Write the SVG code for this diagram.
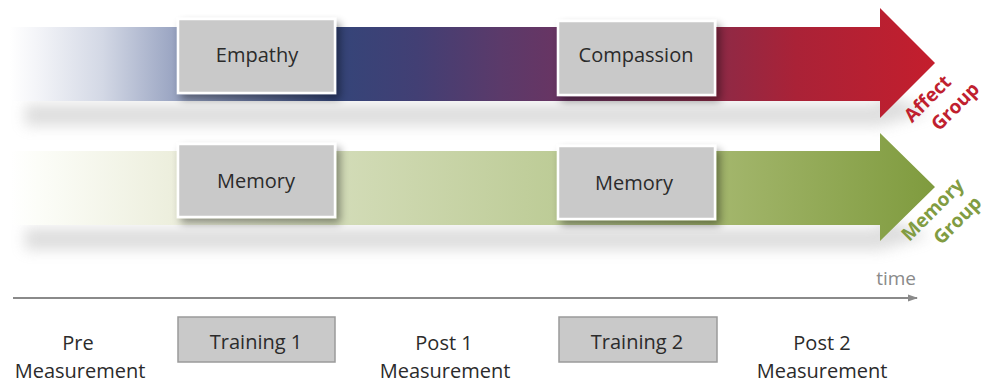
<svg xmlns="http://www.w3.org/2000/svg" width="992" height="390" viewBox="0 0 992 390">
<defs>
<linearGradient id="gAffect" gradientUnits="userSpaceOnUse" x1="10" y1="0" x2="935" y2="0">
<stop offset="0" stop-color="#ffffff"/>
<stop offset="0.03" stop-color="#f3f4f8"/>
<stop offset="0.1" stop-color="#d3d8e5"/>
<stop offset="0.18" stop-color="#98a3c1"/>
<stop offset="0.35" stop-color="#344579"/>
<stop offset="0.44" stop-color="#423f74"/>
<stop offset="0.53" stop-color="#5b3a6a"/>
<stop offset="0.6" stop-color="#6a3462"/>
<stop offset="0.76" stop-color="#8c2a47"/>
<stop offset="0.85" stop-color="#aa2237"/>
<stop offset="1" stop-color="#c41e2d"/>
</linearGradient>
<linearGradient id="gMemory" gradientUnits="userSpaceOnUse" x1="10" y1="0" x2="935" y2="0">
<stop offset="0" stop-color="#ffffff"/>
<stop offset="0.03" stop-color="#fcfdf8"/>
<stop offset="0.18" stop-color="#eceedc"/>
<stop offset="0.35" stop-color="#d3dcb8"/>
<stop offset="0.6" stop-color="#bccb95"/>
<stop offset="0.77" stop-color="#a3b66c"/>
<stop offset="1" stop-color="#7f9b3e"/>
</linearGradient>
<filter id="blur" x="-10%" y="-80%" width="120%" height="260%">
<feGaussianBlur stdDeviation="7"/>
</filter>
<filter id="boxShadow" x="-20%" y="-30%" width="150%" height="170%">
<feGaussianBlur in="SourceAlpha" stdDeviation="4"/>
<feOffset dx="4" dy="5"/>
<feComponentTransfer><feFuncA type="linear" slope="0.4"/></feComponentTransfer>
<feMerge><feMergeNode/><feMergeNode in="SourceGraphic"/></feMerge>
</filter>
<marker id="arr" viewBox="0 0 10 10" refX="9" refY="5" markerWidth="5" markerHeight="5" orient="auto">
<path d="M0,1.5 L10,5 L0,8.5 z" fill="#8a8a8a"/>
</marker>
<style>
.lbl{font-family:"Open Sans","Liberation Sans",sans-serif;font-size:20px;fill:#2b2b2b;text-anchor:middle}
.box{fill:#c9c9c9;stroke:#ffffff;stroke-width:2.5}
.tbox{fill:#c9c9c9;stroke:#9a9a9a;stroke-width:1.5}
.grp{font-family:"Open Sans","Liberation Sans",sans-serif;font-size:19px;font-weight:bold;text-anchor:middle}
.shadow{fill:#a0a0a0;opacity:0.35}
</style>
</defs>

<!-- shadows -->
<polygon class="shadow" points="25,104 880,104 880,92 930,112 880,126 25,126" filter="url(#blur)"/>
<polygon class="shadow" points="25,228 880,228 880,216 930,236 880,250 25,250" filter="url(#blur)"/>

<g id="affect-arrow">
<polygon points="10,27 880,27 880,8 935,63 880,118 880,101 10,101" fill="url(#gAffect)"/>
<g transform="translate(928,99) rotate(-45)">
<text class="grp" x="0" y="6" style="fill:#c01f2f">Affect</text>
<text class="grp" x="14" y="31" style="fill:#c01f2f">Group</text>
</g>
</g>

<g id="memory-arrow">
<polygon points="10,151 880,151 880,133 935,187 880,241 880,225 10,225" fill="url(#gMemory)"/>
<g transform="translate(933,210) rotate(-45)">
<text class="grp" x="0" y="6" style="fill:#819c42">Memory</text>
<text class="grp" x="10" y="31" style="fill:#819c42">Group</text>
</g>
</g>

<g id="empathy">
<rect class="box" x="178" y="19" width="157" height="74" filter="url(#boxShadow)"/>
<text class="lbl" x="257" y="62">Empathy</text>
</g>
<g id="compassion">
<rect class="box" x="558" y="21" width="157" height="74" filter="url(#boxShadow)"/>
<text class="lbl" x="636" y="62">Compassion</text>
</g>
<g id="memory1">
<rect class="box" x="178" y="144" width="157" height="73" filter="url(#boxShadow)"/>
<text class="lbl" x="256" y="188">Memory</text>
</g>
<g id="memory2">
<rect class="box" x="558" y="146" width="157" height="73" filter="url(#boxShadow)"/>
<text class="lbl" x="634" y="190">Memory</text>
</g>

<g id="connectors">
<line x1="13" y1="298" x2="917" y2="298" stroke="#8a8a8a" stroke-width="2" marker-end="url(#arr)"/>
</g>
<g id="time-label">
<text x="916" y="285" style="font-family:'Open Sans','Liberation Sans',sans-serif;font-size:19px;fill:#8a8a8a;text-anchor:end">time</text>
</g>

<g id="pre">
<text class="lbl" x="78" y="350">Pre</text>
<text class="lbl" x="80" y="378">Measurement</text>
</g>
<g id="training1">
<rect class="tbox" x="178" y="317" width="157" height="45"/>
<text class="lbl" x="256" y="349">Training 1</text>
</g>
<g id="post1">
<text class="lbl" x="444" y="350">Post 1</text>
<text class="lbl" x="445" y="378">Measurement</text>
</g>
<g id="training2">
<rect class="tbox" x="559" y="317" width="158" height="45"/>
<text class="lbl" x="637" y="349">Training 2</text>
</g>
<g id="post2">
<text class="lbl" x="822" y="350">Post 2</text>
<text class="lbl" x="822" y="378">Measurement</text>
</g>
</svg>
